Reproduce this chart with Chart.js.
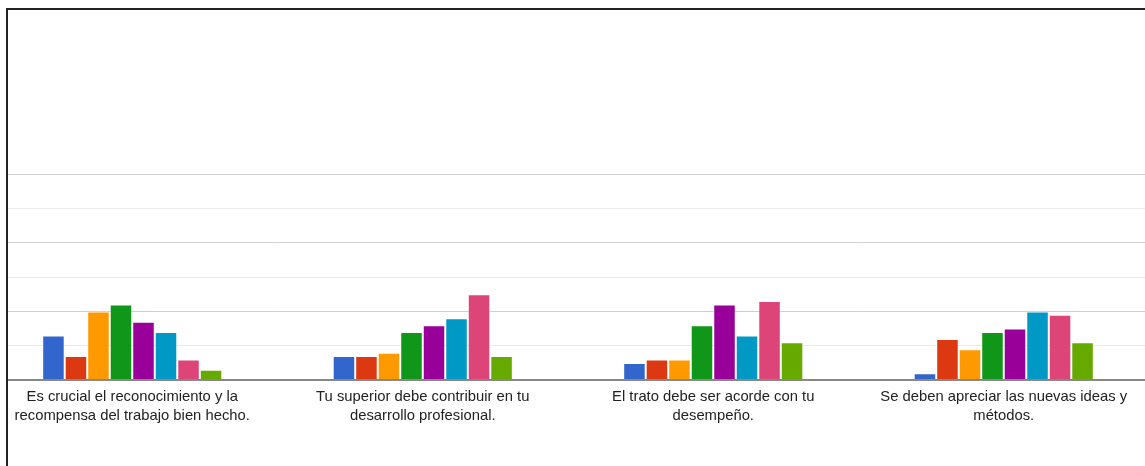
<!DOCTYPE html>
<html>
<head>
<meta charset="utf-8">
<script src="https://cdn.jsdelivr.net/npm/chart.js@4.4.1/dist/chart.umd.min.js"></script>
<style>
  html, body { margin: 0; padding: 0; background: #fff; }
  body { width: 1145px; height: 466px; position: relative; overflow: hidden; }
  #frame { position: absolute; left: 6px; top: 8px; width: 1145px; height: 466px;
           border-left: 2px solid #222; border-top: 2px solid #222; }
  #clip { position: absolute; left: 8px; top: 10px; width: 1137px; height: 456px; overflow: hidden; }
  #wrap { position: absolute; left: -21px; top: 0; width: 1162px; height: 456px; }
</style>
</head>
<body>
<div id="frame"></div>
<div id="clip"><div id="wrap"><canvas id="c"></canvas></div></div>
<script>
const categories = [
  ["Es crucial el reconocimiento y la", "recompensa del trabajo bien hecho."],
  ["Tu superior debe contribuir en tu", "desarrollo profesional."],
  ["El trato debe ser acorde con tu", "desempeño."],
  ["Se deben apreciar las nuevas ideas y", "métodos."]
];
const seriesNames = ["1", "2", "3", "4", "5", "6", "7", "8"];
const seriesColors = ["#3366cc", "#dc3912", "#ff9900", "#109618", "#990099", "#0099c6", "#dd4477", "#66aa00"];
const s1 = [13, 7, 5, 2];
const s2 = [7, 7, 6, 12];
const s3 = [20, 8, 6, 9];
const s4 = [22, 14, 16, 14];
const s5 = [17, 16, 22, 15];
const s6 = [14, 18, 13, 20];
const s7 = [6, 25, 23, 19];
const s8 = [3, 7, 11, 11];
const seriesValues = [s1, s2, s3, s4, s5, s6, s7, s8];
const yMax = 60;
const yStep = 10;

const datasets = seriesNames.map((n, i) => ({
  label: n,
  data: seriesValues[i],
  backgroundColor: seriesColors[i],
  borderColor: 'rgba(255,255,255,0.45)',
  borderWidth: 1,
  categoryPercentage: 0.62,
  barPercentage: 1.0
}));

new Chart(document.getElementById('c'), {
  type: 'bar',
  data: { labels: categories, datasets },
  options: {
    responsive: true,
    maintainAspectRatio: false,
    animation: false,
    layout: { padding: { top: 164, left: 0, right: 0, bottom: 34 } },
    plugins: { legend: { display: false }, tooltip: { enabled: false } },
    scales: {
      x: {
        grid: { display: false, drawTicks: false },
        border: { display: false },
        ticks: {
          color: '#222',
          font: { family: 'Liberation Sans, Arial, sans-serif', size: 14.8, lineHeight: 1.28 },
          padding: 7,
          maxRotation: 0,
          autoSkip: false
        }
      },
      y: {
        min: 0, max: yMax,
        border: { display: false },
        ticks: { display: false, stepSize: yStep },
        grid: {
          drawTicks: false,
          color: ctx => ctx.tick.value === 0 ? '#888' : (ctx.tick.value % 20 === 0 ? '#cfcfcf' : '#ebebeb'),
          lineWidth: ctx => ctx.tick.value === 0 ? 2 : 1
        }
      }
    }
  }
});
</script>
</body>
</html>
